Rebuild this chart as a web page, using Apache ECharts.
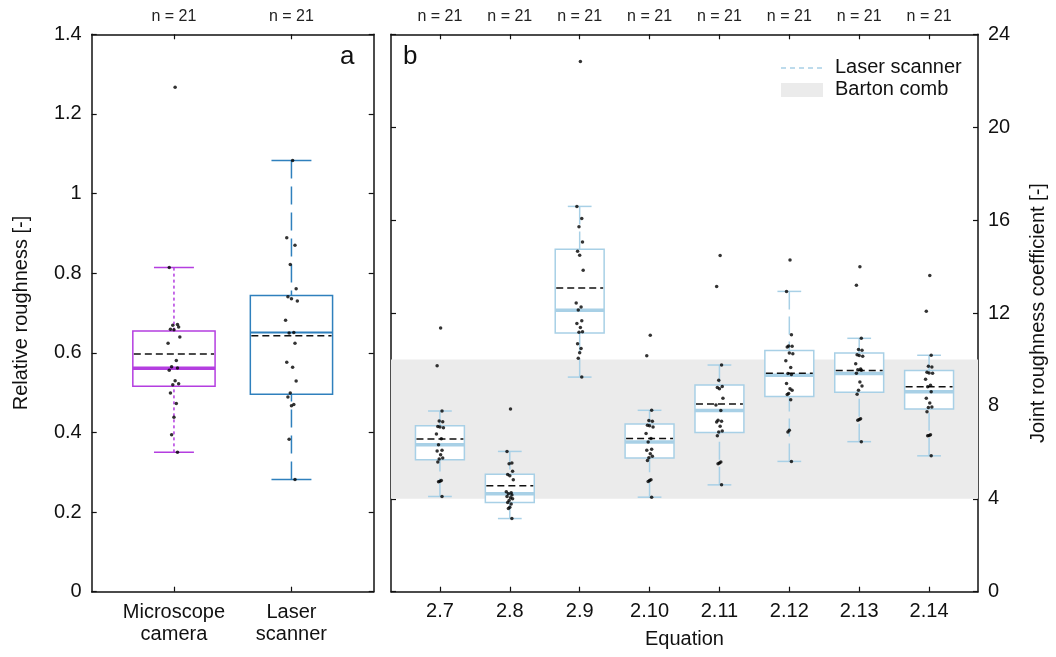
<!DOCTYPE html>
<html>
<head>
<meta charset="utf-8">
<script src="https://cdn.jsdelivr.net/npm/echarts@6/dist/echarts.min.js"></script>
<style>
  html, body { margin: 0; padding: 0; background: #fff; }
  #chart { width: 1056px; height: 657px; }
</style>
</head>
<body>
<div id="chart"></div>
<script>
  // panel a: relative roughness
  var leftCategories = ['Microscope\ncamera', 'Laser\nscanner'];
  // [whisker low, q1, median, q3, whisker high]
  var leftBoxes = [
    [0.350, 0.516, 0.561, 0.655, 0.814],
    [0.282, 0.496, 0.651, 0.744, 1.083]
  ];
  var leftMeans = [0.597, 0.643];
  var microscopePoints = [1.267, 0.814, 0.671, 0.669, 0.665, 0.659, 0.658, 0.640, 0.624, 0.581, 0.565,
    0.562, 0.556, 0.530, 0.522, 0.520, 0.499, 0.473, 0.438, 0.394, 0.350];
  var laserPoints = [1.083, 0.889, 0.870, 0.822, 0.761, 0.741, 0.736, 0.730, 0.682, 0.651, 0.650,
    0.624, 0.576, 0.564, 0.529, 0.499, 0.489, 0.470, 0.467, 0.383, 0.282];

  // panel b: joint roughness coefficient per equation
  var eqCategories = ['2.7', '2.8', '2.9', '2.10', '2.11', '2.12', '2.13', '2.14'];
  var eqBoxes = [
    [4.10, 5.68, 6.33, 7.15, 7.78],
    [3.15, 3.84, 4.22, 5.06, 6.04],
    [9.24, 11.14, 12.12, 14.75, 16.59],
    [4.07, 5.76, 6.45, 7.22, 7.81],
    [4.60, 6.85, 7.80, 8.90, 9.76],
    [5.61, 8.41, 9.32, 10.38, 12.93],
    [6.46, 8.59, 9.39, 10.28, 10.91],
    [5.85, 7.87, 8.61, 9.52, 10.18]
  ];
  var eqMeans = [6.58, 4.56, 13.08, 6.60, 8.08, 9.41, 9.52, 8.82];
  var eq27 = [11.35, 9.73, 7.78, 7.35, 7.32, 7.11, 7.09, 7.06, 6.79, 6.59, 6.33, 6.09, 6.06, 5.90, 5.76, 5.71, 5.58, 4.79, 4.76, 4.73, 4.10];
  var eq28 = [7.87, 6.04, 5.54, 5.51, 5.19, 5.05, 4.99, 4.82, 4.30, 4.26, 4.22, 4.16, 4.10, 4.04, 4.00, 3.93, 3.84, 3.78, 3.64, 3.58, 3.15];
  var eq29 = [22.83, 16.59, 16.07, 15.71, 15.06, 14.66, 14.49, 13.84, 12.43, 12.26, 12.13, 11.67, 11.55, 11.38, 11.19, 11.17, 10.68, 10.47, 10.29, 10.05, 9.24];
  var eq210 = [11.04, 10.16, 7.81, 7.37, 7.34, 7.17, 7.14, 7.09, 6.81, 6.60, 6.45, 6.13, 6.09, 5.94, 5.83, 5.77, 5.65, 4.82, 4.79, 4.75, 4.07];
  var eq211 = [14.48, 13.14, 9.76, 9.10, 8.84, 8.79, 8.74, 8.33, 8.04, 7.80, 7.38, 7.34, 7.31, 7.12, 6.92, 6.88, 6.72, 5.58, 5.54, 5.51, 4.60];
  var eq212 = [14.28, 12.93, 11.06, 10.58, 10.57, 10.54, 10.28, 10.25, 9.94, 9.65, 9.39, 9.35, 8.96, 8.74, 8.67, 8.53, 8.49, 8.26, 6.95, 6.88, 5.61];
  var eq213 = [13.99, 13.19, 10.91, 10.43, 10.40, 10.20, 10.17, 10.14, 9.82, 9.59, 9.56, 9.53, 9.41, 9.03, 8.86, 8.67, 8.50, 7.45, 7.41, 7.38, 6.46];
  var eq214 = [13.62, 12.08, 10.18, 9.71, 9.68, 9.45, 9.42, 9.41, 9.15, 8.89, 8.82, 8.61, 8.33, 8.13, 7.95, 7.93, 7.75, 6.76, 6.73, 6.72, 5.85];
  var eqPoints = [eq27, eq28, eq29, eq210, eq211, eq212, eq213, eq214];
  var bartonRange = [4, 10];

  var jitter = [0.01, -0.04, 0.03, -0.01, 0.04, -0.03, 0.0, 0.05, -0.05, 0.02, -0.02,
    0.03, -0.04, 0.01, 0.04, -0.01, -0.03, 0.02, 0.0, -0.02, 0.03];

  var magenta = '#b43ee0';
  var blue = '#2f80bd';
  var lightBlue = '#a8d0e6';
  var font = 'Liberation Sans, Arial, sans-serif';

  function boxRows(boxes, means) {
    return boxes.map(function (b, i) { return [i + 1].concat(b).concat([means[i]]); });
  }

  function pointRows(lists) {
    var out = [];
    lists.forEach(function (vals, i) {
      vals.forEach(function (v, j) { out.push([i + 1 + jitter[j % jitter.length], v]); });
    });
    return out;
  }

  // box drawing through the axes of the grid
  function makeBoxRenderer(colors, whiskerDash, medianWidth) {
    return function (params, api) {
      var i = params.dataIndex;
      var x = api.value(0);
      var c = colors[i];
      var lo = api.coord([x, api.value(1)]);
      var q1 = api.coord([x, api.value(2)]);
      var med = api.coord([x, api.value(3)]);
      var q3 = api.coord([x, api.value(4)]);
      var hi = api.coord([x, api.value(5)]);
      var mean = api.coord([x, api.value(6)]);
      var bl = api.coord([x - 0.35, 0])[0];
      var br = api.coord([x + 0.35, 0])[0];
      var cl = api.coord([x - 0.17, 0])[0];
      var cr = api.coord([x + 0.17, 0])[0];
      var ws = { stroke: c, lineWidth: 1.5, lineDash: whiskerDash[i] };
      var ls = { stroke: c, lineWidth: 1.5 };
      return {
        type: 'group',
        children: [
          { type: 'line', shape: { x1: lo[0], y1: lo[1], x2: q1[0], y2: q1[1] }, style: ws },
          { type: 'line', shape: { x1: hi[0], y1: hi[1], x2: q3[0], y2: q3[1] }, style: ws },
          { type: 'line', shape: { x1: cl, y1: lo[1], x2: cr, y2: lo[1] }, style: ls },
          { type: 'line', shape: { x1: cl, y1: hi[1], x2: cr, y2: hi[1] }, style: ls },
          { type: 'rect', shape: { x: bl, y: q3[1], width: br - bl, height: q1[1] - q3[1] },
            style: { fill: '#fff', stroke: c, lineWidth: 1.5 } },
          { type: 'line', shape: { x1: bl, y1: med[1], x2: br, y2: med[1] },
            style: { stroke: c, lineWidth: medianWidth[i] } },
          { type: 'line', shape: { x1: bl + 1, y1: mean[1], x2: br - 1, y2: mean[1] },
            style: { stroke: '#111', lineWidth: 1.5, lineDash: [7, 4] } }
        ]
      };
    };
  }

  function nLabels(lists) {
    return function (v) {
      var i = Math.round(v) - 1;
      return lists[i] ? 'n = ' + lists[i].length : '';
    };
  }

  var leftLists = [microscopePoints, laserPoints];
  var catIdxLeft = leftCategories.map(function (c, i) { return i + 1; });
  var catIdxRight = eqCategories.map(function (c, i) { return i + 1; });

  var frameLine = { show: true, onZero: false, lineStyle: { color: '#111', width: 1.5 } };
  var tickIn = { inside: true, length: 5, lineStyle: { color: '#111', width: 1.2 } };

  var chart = echarts.init(document.getElementById('chart'));
  chart.setOption({
    animation: false,
    textStyle: { fontFamily: font },
    grid: [
      { left: 91.7, top: 34.3, width: 282, height: 557.4 },
      { left: 391, top: 34.3, width: 591, height: 557.4 }
    ],
    xAxis: [
      {
        gridIndex: 0, type: 'value', min: 0.3, max: 2.7, position: 'bottom',
        axisLine: frameLine, splitLine: { show: false },
        axisTick: Object.assign({ customValues: catIdxLeft }, tickIn),
        axisLabel: {
          customValues: catIdxLeft, margin: 10, color: '#111', fontSize: 20, lineHeight: 22,
          formatter: function (v) { return leftCategories[Math.round(v) - 1] || ''; }
        }
      },
      {
        gridIndex: 0, type: 'value', min: 0.3, max: 2.7, position: 'top',
        axisLine: frameLine, splitLine: { show: false },
        axisTick: Object.assign({ customValues: catIdxLeft }, tickIn),
        axisLabel: { customValues: catIdxLeft, margin: 10, color: '#222', fontSize: 16, formatter: nLabels(leftLists) }
      },
      {
        gridIndex: 1, type: 'value', min: 0.3, max: 8.7, position: 'bottom',
        axisLine: frameLine, splitLine: { show: false },
        axisTick: Object.assign({ customValues: catIdxRight }, tickIn),
        axisLabel: {
          customValues: catIdxRight, margin: 10, color: '#111', fontSize: 20,
          formatter: function (v) { return eqCategories[Math.round(v) - 1] || ''; }
        },
        name: 'Equation', nameLocation: 'middle', nameGap: 38,
        nameTextStyle: { fontSize: 20, color: '#111' }
      },
      {
        gridIndex: 1, type: 'value', min: 0.3, max: 8.7, position: 'top',
        axisLine: frameLine, splitLine: { show: false },
        axisTick: Object.assign({ customValues: catIdxRight }, tickIn),
        axisLabel: { customValues: catIdxRight, margin: 10, color: '#222', fontSize: 16, formatter: nLabels(eqPoints) }
      }
    ],
    yAxis: [
      {
        gridIndex: 0, type: 'value', min: 0, max: 1.4, interval: 0.2, position: 'left',
        axisLine: frameLine, axisTick: tickIn, splitLine: { show: false },
        axisLabel: { color: '#111', fontSize: 20, margin: 10 },
        name: 'Relative roughness [-]', nameLocation: 'middle', nameGap: 60,
        nameTextStyle: { fontSize: 20, color: '#111' }
      },
      {
        gridIndex: 0, type: 'value', min: 0, max: 1.4, interval: 0.2, position: 'right',
        axisLine: frameLine, axisTick: tickIn, splitLine: { show: false }, axisLabel: { show: false }
      },
      {
        gridIndex: 1, type: 'value', min: 0, max: 24, interval: 4, position: 'left',
        axisLine: frameLine, axisTick: tickIn, splitLine: { show: false }, axisLabel: { show: false }
      },
      {
        gridIndex: 1, type: 'value', min: 0, max: 24, interval: 4, position: 'right',
        axisLine: frameLine, axisTick: tickIn, splitLine: { show: false },
        axisLabel: { color: '#111', fontSize: 20, margin: 10 },
        name: 'Joint roughness coefficient [-]', nameLocation: 'middle', nameGap: 50, nameRotate: 90,
        nameTextStyle: { fontSize: 20, color: '#111' }
      }
    ],
    series: [
      {
        name: 'Barton comb', type: 'line', xAxisIndex: 2, yAxisIndex: 3, data: [], z: 0,
        markArea: {
          silent: true,
          itemStyle: { color: '#ebebeb' },
          data: [[{ yAxis: bartonRange[0] }, { yAxis: bartonRange[1] }]]
        }
      },
      {
        type: 'custom', xAxisIndex: 0, yAxisIndex: 0, z: 2,
        renderItem: makeBoxRenderer([magenta, blue], [[3, 3], [18, 8]], [3.5, 2]),
        data: boxRows(leftBoxes, leftMeans)
      },
      {
        type: 'scatter', xAxisIndex: 0, yAxisIndex: 0, z: 3, symbolSize: 3.5,
        itemStyle: { color: '#000' }, data: pointRows(leftLists)
      },
      {
        type: 'custom', xAxisIndex: 2, yAxisIndex: 3, z: 2,
        renderItem: makeBoxRenderer(eqCategories.map(function () { return lightBlue; }),
          eqCategories.map(function () { return [18, 7]; }),
          eqCategories.map(function () { return 3.5; })),
        data: boxRows(eqBoxes, eqMeans)
      },
      {
        type: 'scatter', xAxisIndex: 2, yAxisIndex: 3, z: 3, symbolSize: 3.5,
        itemStyle: { color: '#000' }, data: pointRows(eqPoints)
      }
    ],
    graphic: [
      { type: 'text', left: 340, top: 44, style: { text: 'a', font: '26px ' + font, fill: '#111' } },
      { type: 'text', left: 403, top: 44, style: { text: 'b', font: '26px ' + font, fill: '#111' } },
      { type: 'line', shape: { x1: 781, y1: 68, x2: 823, y2: 68 }, style: { stroke: lightBlue, lineWidth: 1.5, lineDash: [5, 4] } },
      { type: 'text', left: 835, top: 57, style: { text: 'Laser scanner', font: '20px ' + font, fill: '#111' } },
      { type: 'rect', shape: { x: 781, y: 83, width: 42, height: 14 }, style: { fill: '#ebebeb' } },
      { type: 'text', left: 835, top: 79, style: { text: 'Barton comb', font: '20px ' + font, fill: '#111' } }
    ]
  });
</script>
</body>
</html>
